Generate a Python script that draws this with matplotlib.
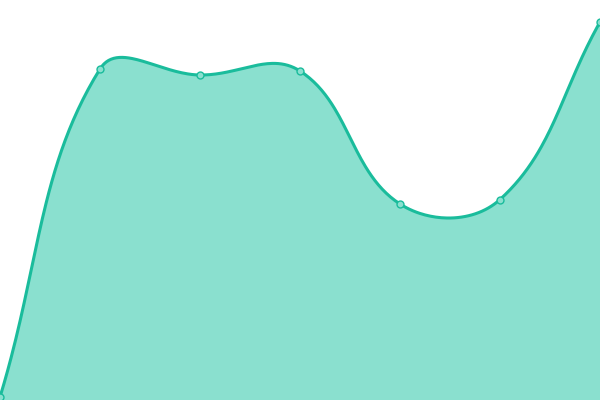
import numpy as np
import matplotlib
matplotlib.use("Agg")
import matplotlib.pyplot as plt

# ---------------------- DATA ----------------------
x_vals = [0, 100, 200, 300, 400, 500, 600]
y_vals = [3, 331, 325, 329, 196, 200.5, 378]

LINE = "#1abc9c"
FILL = "#8ae0cf"
TENSION = 0.4


def spline_controls(xs, ys, t=TENSION, lo=(0, 0), hi=(600, 400)):
    # Chart.js style cardinal spline control points
    pts = np.column_stack([xs, ys]).astype(float)
    n = len(pts)
    prev_c, next_c = [], []
    for i in range(n):
        p0 = pts[max(i - 1, 0)]
        p1 = pts[i]
        p2 = pts[min(i + 1, n - 1)]
        d01 = np.hypot(*(p1 - p0))
        d12 = np.hypot(*(p2 - p1))
        tot = d01 + d12
        s01 = d01 / tot if tot else 0
        s12 = d12 / tot if tot else 0
        a = p1 - t * s01 * (p2 - p0)
        b = p1 + t * s12 * (p2 - p0)
        prev_c.append(np.clip(a, lo, hi))
        next_c.append(np.clip(b, lo, hi))
    return pts, prev_c, next_c


def bezier_path(xs, ys, steps=60):
    pts, prev_c, next_c = spline_controls(xs, ys)
    out = [pts[0]]
    tt = np.linspace(0, 1, steps)[1:, None]
    for i in range(len(pts) - 1):
        p0, c1, c2, p3 = pts[i], next_c[i], prev_c[i + 1], pts[i + 1]
        seg = ((1 - tt) ** 3) * p0 + 3 * ((1 - tt) ** 2) * tt * c1 \
            + 3 * (1 - tt) * tt ** 2 * c2 + tt ** 3 * p3
        out.extend(seg)
    out = np.array(out)
    return out[:, 0], out[:, 1]


cx, cy = bezier_path(x_vals, y_vals)

fig = plt.figure(figsize=(6, 4), dpi=100)
ax = fig.add_axes([0, 0, 1, 1])
ax.fill_between(cx, 0, cy, color=FILL, linewidth=0)
ax.plot(cx, cy, color=LINE, linewidth=2.2, solid_capstyle="round")
ax.plot(x_vals, y_vals, "o", markersize=5, markerfacecolor="#8ae0cf",
        markeredgecolor=LINE, markeredgewidth=1.0, clip_on=False)
ax.set_xlim(0, 600)
ax.set_ylim(0, 400)
ax.axis("off")

fig.savefig("out.png", dpi=100)
